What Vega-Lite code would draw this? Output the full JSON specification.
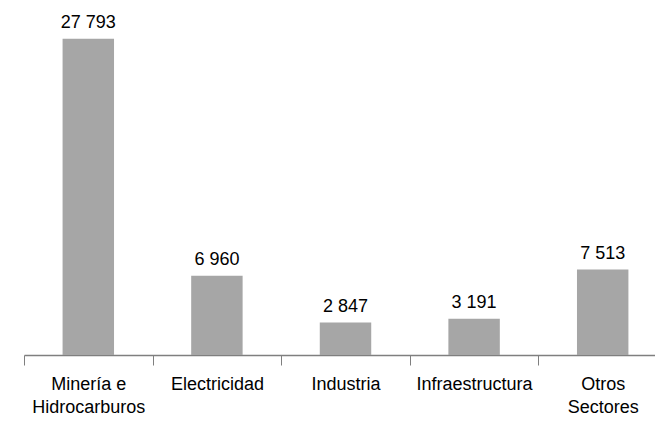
{
  "$schema": "https://vega.github.io/schema/vega-lite/v6.json",
  "width": 643,
  "height": 355,
  "autosize": {"type": "none"},
  "padding": {"left": 24, "top": 0, "right": 0, "bottom": 77},
  "config": {
    "view": {"stroke": null},
    "font": "Liberation Sans",
    "locale": {"number": {"decimal": ",", "thousands": " ", "grouping": [3], "currency": ["", ""]}}
  },
  "data": {
    "values": [
      {"sector": "Minería e|Hidrocarburos", "valor": 27793},
      {"sector": "Electricidad", "valor": 6960},
      {"sector": "Industria", "valor": 2847},
      {"sector": "Infraestructura", "valor": 3191},
      {"sector": "Otros|Sectores", "valor": 7513}
    ]
  },
  "encoding": {
    "x": {
      "field": "sector",
      "type": "nominal",
      "sort": null,
      "scale": {"paddingInner": 0.6, "paddingOuter": 0.3},
      "axis": {
        "title": null,
        "labelAngle": 0,
        "labelExpr": "split(datum.label, '|')",
        "labelFontSize": 18,
        "labelColor": "#000000",
        "labelPadding": 10,
        "labelLineHeight": 23,
        "labelBaseline": "top",
        "labelLimit": 200,
        "tickOffset": -64.3,
        "labelOffset": 64.3,
        "tickSize": 10,
        "tickColor": "#7f7f7f",
        "tickWidth": 1,
        "domainColor": "#7f7f7f",
        "domainWidth": 1.5
      }
    },
    "y": {
      "field": "valor",
      "type": "quantitative",
      "scale": {"domain": [0, 31200]},
      "axis": null
    }
  },
  "layer": [
    {"mark": {"type": "bar", "color": "#A6A6A6"}},
    {
      "mark": {"type": "text", "fontSize": 18, "color": "#000000", "baseline": "alphabetic", "dy": -11},
      "encoding": {"text": {"field": "valor", "type": "quantitative", "format": ",d"}}
    }
  ]
}
